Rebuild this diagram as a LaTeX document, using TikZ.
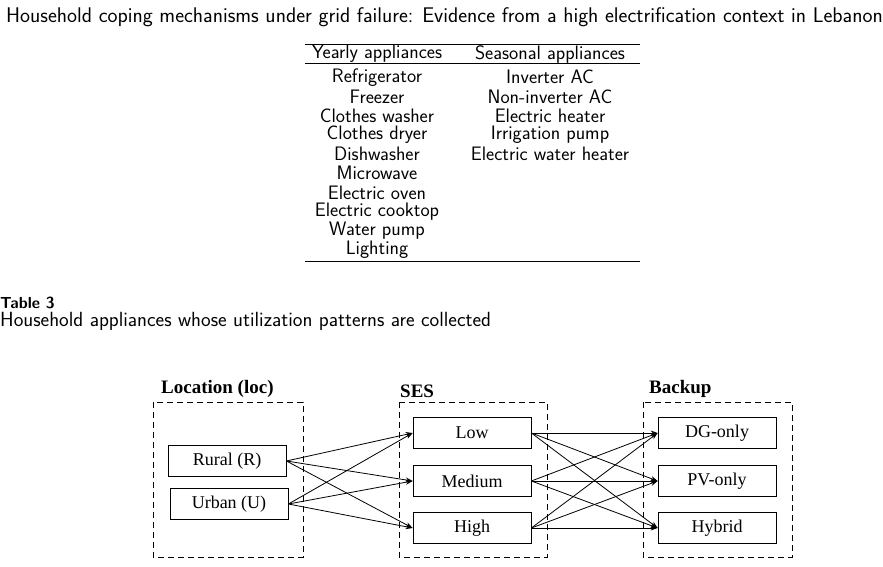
\documentclass[tikz,border=0pt]{standalone}
\usepackage{fontspec}
\newfontfamily\tms{Liberation Serif}
\usetikzlibrary{arrows.meta}
\begin{document}
\begin{tikzpicture}[x=1pt,y=-1pt,
  sf/.style={font=\sffamily\fontsize{19.5}{21}\selectfont,inner sep=0pt},
  bx/.style={draw,line width=0.8pt,minimum width=118pt,minimum height=31pt,font=\tms\fontsize{18}{20}\selectfont},
  grp/.style={draw,dashed,line width=0.8pt,dash pattern=on 6pt off 4pt},
  hd/.style={font=\tms\bfseries\fontsize{19}{21}\selectfont,inner sep=0pt},
  ar/.style={-{Stealth[length=7pt,width=5pt]},line width=0.8pt}]
\useasboundingbox (0,0) rectangle (883,567);
\node[sf,anchor=east,font=\sffamily\fontsize{21.2}{23}\selectfont] (title) at (883,17) {Household coping mechanisms under grid failure: Evidence from a high electrification context in Lebanon};
\draw[line width=0.6pt] (305,44) -- (640,44);
\draw[line width=0.6pt] (305,63) -- (640,63);
\draw[line width=0.6pt] (305,261) -- (640,261);
\node[sf] (h1) at (377,54) {Yearly appliances};
\node[sf] (h2) at (550,54) {Seasonal appliances};
\foreach \t [count=\i] in {Refrigerator,Freezer,Clothes washer,Clothes dryer,Dishwasher,Microwave,Electric oven,Electric cooktop,Water pump,Lighting}
  \node[sf] (y\i) at (377,{58+19.2*\i}) {\t};
\foreach \t [count=\i] in {Inverter AC,Non-inverter AC,Electric heater,Irrigation pump,Electric water heater}
  \node[sf] (s\i) at (550,{58+19.2*\i}) {\t};
\node[sf,anchor=west,font=\sffamily\bfseries\fontsize{16}{18}\selectfont] (tab) at (0,303) {Table 3};
\node[sf,anchor=west,font=\sffamily\fontsize{20.5}{22}\selectfont] (cap) at (0,321) {Household appliances whose utilization patterns are collected};
% groups
\draw[grp] (153,402) rectangle (303,557);
\draw[grp] (399,402) rectangle (547,557);
\draw[grp] (643,402) rectangle (792,557);
\node[hd,anchor=south west] (gl) at (161,398) {Location (loc)};
\node[hd,anchor=south west] (gs) at (400,398) {SES};
\node[hd,anchor=south west] (gb) at (649,398) {Backup};
\node[bx] (R) at (227,461) {Rural (R)};
\node[bx] (U) at (229,504) {Urban (U)};
\node[bx] (L) at (472,433) {Low};
\node[bx] (M) at (472,481) {Medium};
\node[bx] (H) at (472,528) {High};
\node[bx] (D) at (717,433) {DG-only};
\node[bx] (P) at (717,481) {PV-only};
\node[bx] (Y) at (717,528) {Hybrid};
\foreach \a in {R,U} \foreach \b in {L,M,H} \draw[ar] (\a.east) -- (\b.west);
\foreach \a in {L,M,H} \foreach \b in {D,P,Y} \draw[ar] (\a.east) -- (\b.west);
\end{tikzpicture}
\end{document}
